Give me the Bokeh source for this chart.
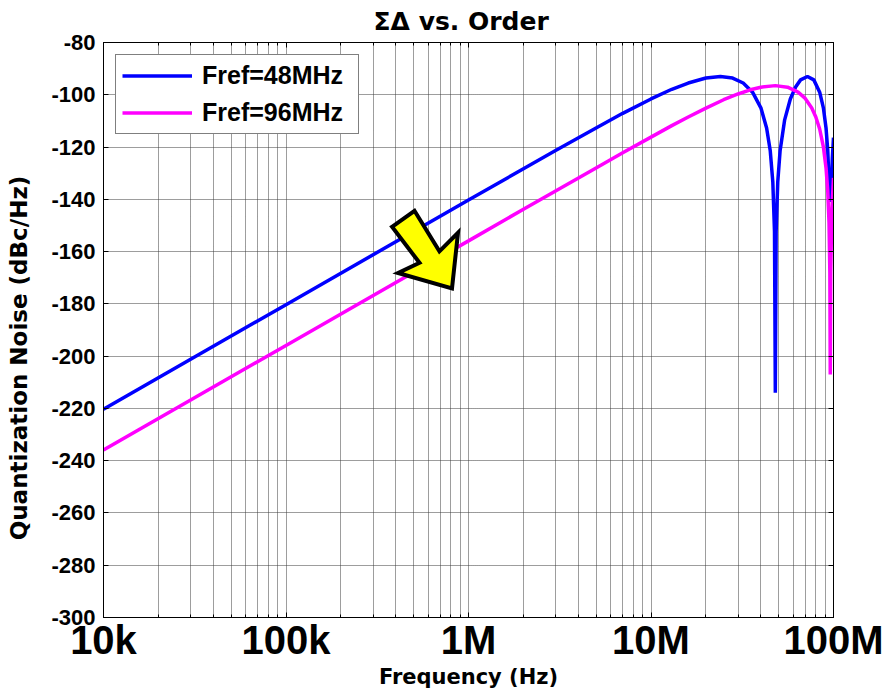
from bokeh.plotting import figure
from bokeh.models import FixedTicker, LinearAxis, LogAxis, Legend, LegendItem, Range1d
from bokeh.embed import file_html
from bokeh.resources import INLINE

# ---- data ----
freq_48 = [1e4, 1e5, 1e6, 2e6, 3e6, 5e6, 7e6, 1e7, 1.3e7, 1.6e7, 2e7, 2.4e7, 2.8e7,
           3.2e7, 3.6e7, 4e7, 4.3e7, 4.5e7, 4.65e7, 4.75e7, 4.8e7, 4.85e7, 4.95e7,
           5.1e7, 5.4e7, 5.8e7, 6.2e7, 6.6e7, 7.2e7, 7.8e7, 8.4e7, 8.8e7, 9.1e7,
           9.3e7, 9.45e7, 9.6e7, 9.75e7, 9.85e7, 1e8]
noise_48 = [-220.3, -180.3, -140.3, -128.3, -121.3, -112.7, -107.1, -101.6, -97.9,
            -95.5, -93.6, -93.0, -93.6, -95.5, -99.0, -105.0, -112.7, -121.3, -133.3,
            -152.4, -214.0, -152.4, -133.3, -121.3, -109.6, -101.6, -97.0, -94.3,
            -93.0, -94.3, -99.0, -105.0, -112.7, -121.3, -133.3, -141.0, -133.3,
            -124.5, -116.4]

freq_96 = [1e4, 1e5, 1e6, 2e6, 3e6, 5e6, 7e6, 1e7, 1.3e7, 1.6e7, 2e7, 2.5e7, 3e7,
           3.5e7, 4e7, 4.8e7, 5.6e7, 6.4e7, 7e7, 7.6e7, 8e7, 8.4e7, 8.8e7, 9.1e7,
           9.3e7, 9.45e7, 9.55e7, 9.6e7, 9.65e7, 9.8e7, 1e8]
noise_96 = [-235.9, -195.9, -155.9, -143.8, -136.8, -128.0, -122.2, -116.2, -111.8,
            -108.5, -105.1, -101.9, -99.7, -98.1, -97.1, -96.5, -97.1, -99.0, -101.4,
            -105.1, -108.5, -113.1, -119.9, -128.0, -136.8, -148.8, -167.9, -207.0,
            -167.9, -143.8, -131.8]

x_ticks = [1e4, 1e5, 1e6, 1e7, 1e8]
x_tick_labels = ["10k", "100k", "1M", "10M", "100M"]
x_minor_ticks = [m * 10 ** e for e in range(4, 8) for m in range(2, 10)]
y_ticks = [-300, -280, -260, -240, -220, -200, -180, -160, -140, -120, -100, -80]
y_tick_labels = [str(v) for v in y_ticks]

# yellow arrow annotation (data coordinates)
arrow_x = [3.81e5, 5.06e5, 6.93e5, 8.76e5, 8.12e5, 4.11e5, 5.39e5]
arrow_y = [-150.5, -144.4, -159.9, -152.8, -174.1, -168.2, -164.3]

TICK_FONT = "Liberation Sans"
LABEL_FONT = "DejaVu Sans"

p = figure(width=895, height=691, x_axis_type="log",
           x_range=Range1d(1e4, 1e8), y_range=Range1d(-300, -80),
           output_backend="svg", toolbar_location=None,
           min_border_left=103, min_border_right=62, min_border_top=42,
           min_border_bottom=74, title="ΣΔ vs. Order")

p.background_fill_color = "white"
p.border_fill_color = "white"
p.outline_line_color = "black"
p.outline_line_width = 1

p.title.text_font = LABEL_FONT
p.title.text_font_style = "bold"
p.title.text_font_size = "25px"
p.title.text_color = "black"
p.title.align = "left"
p.title.offset = 270
p.title.vertical_align = "top"
p.title.standoff = 10

xt = FixedTicker(ticks=x_ticks, minor_ticks=x_minor_ticks)
yt = FixedTicker(ticks=y_ticks)

# grids (MATLAB-like dotted)
grid_color = "#3a3a3a"
p.xgrid.ticker = xt
p.xgrid.grid_line_color = grid_color
p.xgrid.grid_line_dash = "1 1"
p.xgrid.minor_grid_line_color = grid_color
p.xgrid.minor_grid_line_dash = "1 1"
p.ygrid.ticker = yt
p.ygrid.grid_line_color = grid_color
p.ygrid.grid_line_dash = "1 1"

# bottom axis
xa = p.xaxis[0]
xa.ticker = xt
xa.major_label_overrides = {t: l for t, l in zip(x_ticks, x_tick_labels)}
xa.major_label_text_font = TICK_FONT
xa.major_label_text_font_style = "bold"
xa.major_label_text_font_size = "40px"
xa.major_label_text_color = "black"
xa.major_label_standoff = 0
xa.major_tick_in = 5
xa.major_tick_out = 0
xa.minor_tick_in = 3
xa.minor_tick_out = 0
xa.axis_line_color = "black"
xa.major_tick_line_color = "black"
xa.minor_tick_line_color = "black"
xa.axis_label = "Frequency (Hz)"
xa.axis_label_text_font = LABEL_FONT
xa.axis_label_text_font_style = "bold"
xa.axis_label_text_font_size = "21px"
xa.axis_label_text_color = "black"
xa.axis_label_standoff = 0

# left axis
ya = p.yaxis[0]
ya.ticker = yt
ya.major_label_overrides = {t: l for t, l in zip(y_ticks, y_tick_labels)}
ya.major_label_text_font = TICK_FONT
ya.major_label_text_font_style = "bold"
ya.major_label_text_font_size = "22px"
ya.major_label_text_color = "black"
ya.major_label_standoff = 8
ya.major_tick_in = 5
ya.major_tick_out = 0
ya.minor_tick_in = 0
ya.minor_tick_out = 0
ya.axis_line_color = "black"
ya.major_tick_line_color = "black"
ya.axis_label = "Quantization Noise (dBc/Hz)" + "\u00a0" * 7
ya.axis_label_text_font = LABEL_FONT
ya.axis_label_text_font_style = "bold"
ya.axis_label_text_font_size = "23px"
ya.axis_label_text_color = "black"
ya.axis_label_standoff = 16

# top and right axes (ticks only, MATLAB box style)
top = LogAxis(ticker=xt, major_label_text_font_size="1px", major_label_text_alpha=0,
              major_label_standoff=0,
              major_tick_in=5, major_tick_out=0, minor_tick_in=3, minor_tick_out=0,
              axis_line_color="black")
p.add_layout(top, "above")
right = LinearAxis(ticker=yt, major_label_text_font_size="1px", major_label_text_alpha=0,
                   major_label_standoff=0,
                   major_tick_in=5, major_tick_out=0, minor_tick_in=0, minor_tick_out=0,
                   axis_line_color="black")
p.add_layout(right, "right")

# curves
r1 = p.line(freq_48, noise_48, line_color="#0000FF", line_width=3.5)
r2 = p.line(freq_96, noise_96, line_color="#FF00FF", line_width=3.5)

# arrow annotation
p.patch(arrow_x, arrow_y, fill_color="#FFFF00", line_color="black", line_width=4,
        line_join="miter")

legend = Legend(items=[LegendItem(label="Fref=48MHz", renderers=[r1]),
                       LegendItem(label="Fref=96MHz", renderers=[r2])],
                location="top_left", margin=12, padding=6, spacing=8,
                glyph_width=70, glyph_height=27, label_height=27, label_width=150,
                label_standoff=10,
                label_text_font=TICK_FONT, label_text_font_style="bold",
                label_text_font_size="25px", label_text_color="black",
                border_line_color="black", border_line_width=1,
                background_fill_color="white", background_fill_alpha=1.0)
p.add_layout(legend, "center")

open("out.html", "w").write(file_html(p, INLINE))
